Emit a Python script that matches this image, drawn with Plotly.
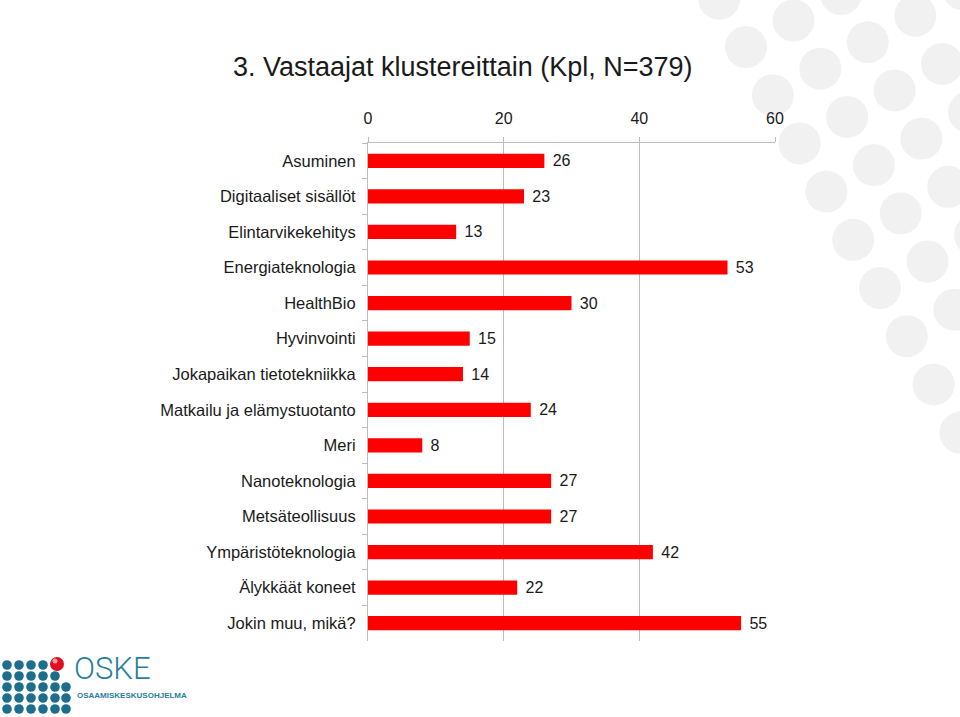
import plotly.graph_objects as go

categories = ["Asuminen", "Digitaaliset sisällöt", "Elintarvikekehitys", "Energiateknologia",
              "HealthBio", "Hyvinvointi", "Jokapaikan tietotekniikka", "Matkailu ja elämystuotanto",
              "Meri", "Nanoteknologia", "Metsäteollisuus", "Ympäristöteknologia",
              "Älykkäät koneet", "Jokin muu, mikä?"]
values = [26, 23, 13, 53, 30, 15, 14, 24, 8, 27, 27, 42, 22, 55]
x_ticks = [0, 20, 40, 60]
title_text = "3. Vastaajat klustereittain (Kpl, N=379)"

W_PX, H_PX = 960, 717
L, R, T, B = 368, 775, 143, 641
FONT = "Liberation Sans, Arial, sans-serif"
TXT = "#1a1a1a"
GRID = "#bcbcbc"


def px(x):
    return (x - L) / (R - L)


def py(y):
    return (B - y) / (B - T)


fig = go.Figure()
fig.add_trace(go.Bar(
    x=values, y=categories, orientation="h",
    marker=dict(color="#ff0000", line=dict(width=0)),
    width=0.4,
    text=values, texttemplate="\u2004%{x}", textposition="outside",
    constraintext="none",
    textfont=dict(family=FONT, size=16, color=TXT),
    cliponaxis=False, hoverinfo="skip",
))

shapes = []
# decorative background circles (top-right)
r = 21
o = (746.0, 47.0)
a = (26.8, 48.2)
b = (47.5, -26.5)
for i in range(-1, 10):
    for j in range(0, 6):
        cx = o[0] + i * a[0] + j * b[0]
        cy = o[1] + i * a[1] + j * b[1]
        if cx - r > W_PX or cy - r > H_PX or cy + r < 0:
            continue
        if i == -1 and j > 0:
            continue
        shapes.append(dict(type="circle", xref="paper", yref="paper", layer="below",
                           x0=px(cx - r), x1=px(cx + r), y0=py(cy + r), y1=py(cy - r),
                           fillcolor="#f1f1f1", line=dict(width=0)))

# logo dots
teal = "#1d6e8c"
rows_y = [665, 676, 687, 698, 709]
cols_x = [7, 19, 31, 43, 55, 66]
counts = [4, 5, 6, 6, 6]
dr = 4.8
for ry, cnt in zip(rows_y, counts):
    for cxp in cols_x[:cnt]:
        shapes.append(dict(type="circle", xref="paper", yref="paper", layer="above",
                           x0=px(cxp - dr), x1=px(cxp + dr), y0=py(ry + dr), y1=py(ry - dr),
                           fillcolor=teal, line=dict(width=0)))
# red sphere
rr = 7
shapes.append(dict(type="circle", xref="paper", yref="paper",
                   x0=px(57 - rr), x1=px(57 + rr), y0=py(664 + rr), y1=py(664 - rr),
                   fillcolor="#e01020", line=dict(width=0)))
shapes.append(dict(type="circle", xref="paper", yref="paper",
                   x0=px(55 - 2.5), x1=px(55 + 2.5), y0=py(661 + 2.5), y1=py(661 - 2.5),
                   fillcolor="#f7a0a0", line=dict(width=0)))

annotations = [
    dict(text=title_text, xref="paper", yref="paper", x=px(231), y=py(67),
         xanchor="left", yanchor="middle", showarrow=False,
         font=dict(family=FONT, size=27, color=TXT)),
    dict(text="OSKE", xref="paper", yref="paper", x=px(72), y=py(689),
         xanchor="left", yanchor="bottom", showarrow=False,
         font=dict(family="Roboto", size=31, color="#2a7d9c", weight=300)),
    dict(text="OSAAMISKESKUSOHJELMA", xref="paper", yref="paper", x=px(75), y=py(689),
         xanchor="left", yanchor="top", showarrow=False,
         font=dict(family=FONT, size=8, color="#2a7d9c", weight="bold")),
]

fig.update_layout(
    width=W_PX, height=H_PX, autosize=False,
    margin=dict(l=L, r=W_PX - R, t=T, b=H_PX - B, pad=0),
    paper_bgcolor="white", plot_bgcolor="rgba(0,0,0,0)",
    showlegend=False, bargap=0.6,
    shapes=shapes, annotations=annotations,
    xaxis=dict(side="top", range=[0, 60], tickvals=x_ticks, ticktext=[str(v) for v in x_ticks],
               showgrid=True, gridcolor=GRID, gridwidth=1,
               showline=True, linecolor=GRID, linewidth=1,
               ticks="outside", ticklen=5, tickcolor=GRID,
               tickfont=dict(family=FONT, size=16, color=TXT),
               ticklabelstandoff=7,
               zeroline=False, fixedrange=True),
    yaxis=dict(autorange="reversed", type="category",
               showline=True, linecolor=GRID, linewidth=1,
               ticks="outside", ticklen=5, tickcolor=GRID, tickson="boundaries",
               tickfont=dict(family=FONT, size=16.5, color=TXT),
               ticklabelstandoff=8, showgrid=False, fixedrange=True),
)

fig.write_html("out.html", config={"displayModeBar": False},
               post_script="document.body.style.margin='0';document.body.style.overflow='hidden';")
